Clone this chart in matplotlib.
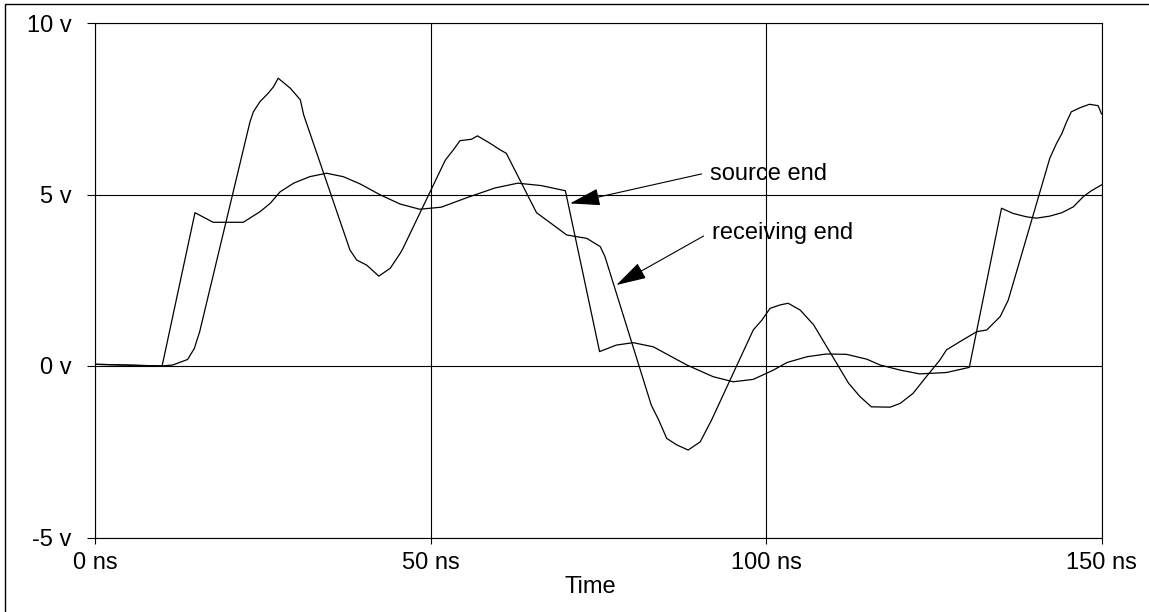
import matplotlib.pyplot as plt
from matplotlib.patches import Rectangle

# Waveform samples (time in ns, voltage in V)
t_source = [0, 10, 14.9, 17.6, 22.1, 24.6, 26.1, 27.6, 29.6, 32.0, 34.5, 37.0, 39.5,
            42.5, 45.5, 48.4, 51.6, 55.6, 59.6, 63.0, 66.5, 70.1, 75.2, 77.7, 80.2,
            83.2, 88.2, 92.1, 95.1, 98.1, 101.1, 103.1, 106.1, 109.0, 112.0, 115.0,
            117.0, 120.0, 122.9, 126.9, 130.3, 135.1, 136.8, 138.8, 140.3, 142.3,
            144.1, 145.8, 147.3, 148.5, 150]
v_source = [0.05, 0, 4.47, 4.19, 4.19, 4.5, 4.74, 5.08, 5.33, 5.52, 5.62, 5.52, 5.31,
            4.99, 4.72, 4.57, 4.63, 4.92, 5.19, 5.33, 5.26, 5.11, 0.42, 0.61, 0.68,
            0.56, 0.03, -0.31, -0.46, -0.39, -0.12, 0.1, 0.27, 0.35, 0.34, 0.2,
            0.03, -0.12, -0.23, -0.19, -0.04, 4.6, 4.45, 4.35, 4.31, 4.37,
            4.47, 4.64, 4.94, 5.11, 5.28]

t_recv = [0, 10, 11.6, 13.8, 14.8, 15.6, 23.1, 23.6, 24.6, 25.8, 26.6, 27.3, 29.1,
          30.6, 31.1, 38.0, 39.0, 40.5, 42.3, 44.0, 45.5, 45.9, 52.2, 53.4, 54.4,
          56.1, 57.0, 58.9, 60.4, 61.3, 65.8, 68.3, 70.3, 73.3, 75.3, 76.0, 82.9,
          84.0, 85.2, 86.7, 88.4, 90.2, 91.9, 98.1, 99.4, 100.6, 102.1, 103.3,
          105.1, 107.1, 112.3, 114.0, 115.7, 118.5, 120.0, 121.9, 123.9, 125.9,
          126.9, 128.9, 131.4, 132.9, 134.9, 136.1, 142.3, 143.3, 144.1, 144.8,
          145.5, 146.8, 148.2, 149.5, 150]
v_recv = [0.05, 0, 0.03, 0.19, 0.51, 1.0, 7.12, 7.41, 7.71, 7.95, 8.14, 8.39, 8.1,
          7.76, 7.32, 3.38, 3.09, 2.94, 2.62, 2.85, 3.29, 3.43, 6.0, 6.30, 6.57,
          6.61, 6.71, 6.49, 6.30, 6.2, 4.47, 4.11, 3.82, 3.72, 3.48, 3.19, -1.14,
          -1.57, -2.11, -2.30, -2.45, -2.21, -1.57, 1.05, 1.34, 1.68, 1.78, 1.83,
          1.63, 1.2, -0.5, -0.89, -1.19, -1.2, -1.09, -0.8, -0.31, 0.17,
          0.47, 0.71, 1.0, 1.05, 1.44, 1.92, 6.06, 6.49, 6.78, 7.12,
          7.41, 7.53, 7.63, 7.59, 7.35]

x_ticks = [0, 50, 100, 150]
x_labels = ["0 ns", "50 ns", "100 ns", "150 ns"]
y_ticks = [-5, 0, 5, 10]
y_labels = ["-5 v", "0 v", "5 v", "10 v"]


def create_visualization():
    plt.rcParams["font.family"] = ["Liberation Sans", "DejaVu Sans"]

    fig = plt.figure(figsize=(11.49, 6.12), dpi=100)
    ax = fig.add_axes([95 / 1149, 1 - 537.5 / 612, 1006.5 / 1149, 514.5 / 612])

    # outer frame of the original screenshot (only left/top visible)
    fig.patches.append(Rectangle((5 / 1149, -0.1), 1.2, 1.1 - 4 / 612,
                                 transform=fig.transFigure, fill=False,
                                 ec="black", lw=1.0))

    ax.plot(t_source, v_source, color="black", lw=0.9)
    ax.plot(t_recv, v_recv, color="black", lw=0.9)

    ax.set_xlim(0, 150)
    ax.set_ylim(-5, 10)
    ax.set_xticks(x_ticks)
    ax.set_xticklabels(x_labels, fontsize=17)
    ax.set_yticks(y_ticks)
    ax.set_yticklabels(y_labels, fontsize=17)
    ax.tick_params(axis="y", length=6, width=0.8, pad=11)
    ax.tick_params(axis="x", length=4.5, width=0.8, pad=6)
    ax.set_xlabel("Time", fontsize=17)
    ax.xaxis.set_label_coords(0.492, -0.096)
    ax.xaxis.label.set_verticalalignment("center")
    ax.grid(True, color="black", lw=0.8)
    for s in ax.spines.values():
        s.set_linewidth(0.8)

    arrow = dict(arrowstyle="-|>,head_length=0.95,head_width=0.27",
                 color="black", lw=0.8, mutation_scale=20,
                 shrinkA=0, shrinkB=0)
    ax.annotate("", xy=(70.8, 4.74), xytext=(90.4, 5.6), arrowprops=arrow)
    ax.annotate("", xy=(77.7, 2.36), xytext=(90.7, 3.79), arrowprops=arrow)
    ax.text(91.7, 5.6, "source end", fontsize=17, va="center", ha="left")
    ax.text(92.0, 3.88, "receiving end", fontsize=17, va="center", ha="left")

    plt.savefig("out.png", dpi=100)


if __name__ == "__main__":
    create_visualization()
